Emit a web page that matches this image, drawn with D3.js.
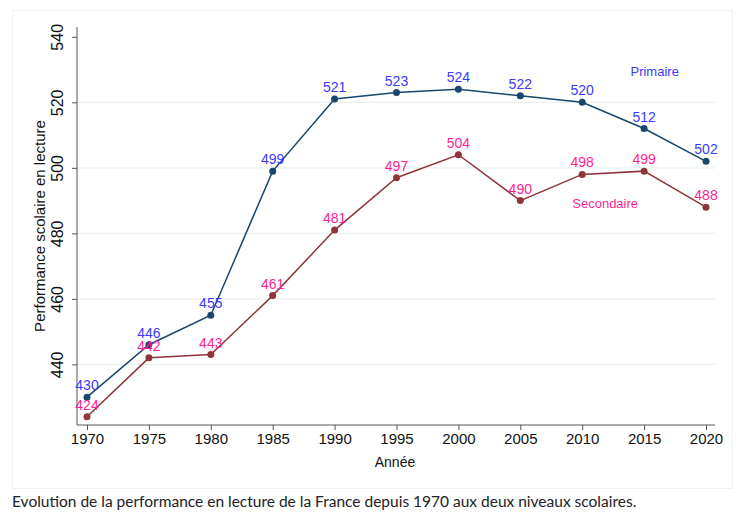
<!DOCTYPE html>
<html><head><meta charset="utf-8">
<script src="https://cdn.jsdelivr.net/npm/d3@7"></script>
<style>body{margin:0;background:#fff}svg{display:block}</style>
</head><body>
<script>
const years = [1970,1975,1980,1985,1990,1995,2000,2005,2010,2015,2020];
const primaire = [430,446,455,499,521,523,524,522,520,512,502];
const secondaire = [424,442,443,461,481,497,504,490,498,499,488];
const yTicks = [440,460,480,500,520,540];
const xTicks = years;
const seriesNames = ["Primaire","Secondaire"];

const FONT="'Liberation Sans', Arial, sans-serif";
const W=754,H=523;
const svg=d3.select("body").append("svg").attr("width",W).attr("height",H);
svg.append("rect").attr("x",12.5).attr("y",10.5).attr("width",720).attr("height",478)
  .attr("fill","#fff").attr("stroke","#eef2f2");

const x=d3.scaleLinear().domain([1970,2020]).range([87,706]);
const y=d3.scaleLinear().domain([421.5,543]).range([425,27]);
const pL=77,pR=715,pB=425,pT=27;

// grid
svg.append("g").selectAll("line").data(yTicks.filter(d=>d<540)).join("line")
  .attr("x1",pL).attr("x2",pR).attr("y1",d=>y(d)).attr("y2",d=>y(d))
  .attr("stroke","#eaf0f0").attr("stroke-width",1.2);

// axes
const ya=svg.append("g").attr("transform",`translate(${pL},0)`)
  .call(d3.axisLeft(y).tickValues(yTicks).tickSize(5).tickFormat(d3.format("d")));
ya.select(".domain").attr("d",`M0,${pT}V${pB}`).attr("stroke","#555");
ya.selectAll(".tick line").attr("stroke","#555");
ya.selectAll(".tick text").style("font-family",FONT).attr("font-size",16).attr("fill","#111")
  .attr("transform","rotate(-90)").attr("x",0).attr("y",-14).attr("dy","0").attr("text-anchor","middle");

const xa=svg.append("g").attr("transform",`translate(0,${pB})`)
  .call(d3.axisBottom(x).tickValues(xTicks).tickSize(5).tickFormat(d3.format("d")));
xa.select(".domain").attr("d",`M${pL},0H${pR}`).attr("stroke","#555");
xa.selectAll(".tick line").attr("stroke","#555");
xa.selectAll(".tick text").style("font-family",FONT).attr("font-size",15).attr("fill","#111").attr("y",8);

svg.append("text").attr("x",395).attr("y",467).attr("text-anchor","middle")
  .style("font-family",FONT).attr("font-size",14).attr("fill","#111").text("Année");
svg.append("text").attr("transform","translate(45,226) rotate(-90)").attr("text-anchor","middle")
  .style("font-family",FONT).attr("font-size",15).attr("fill","#111").text("Performance scolaire en lecture");

const series=[
  {name:seriesNames[0],vals:primaire,line:"#1a476f",lab:"#3a3aff",lx:2013.9,ly:71},
  {name:seriesNames[1],vals:secondaire,line:"#90353b",lab:"#ff1f8f",lx:2009.2,ly:203}
];
const line=d3.line().x((d,i)=>x(years[i])).y(d=>y(d));
series.forEach(s=>{
  svg.append("path").attr("d",line(s.vals)).attr("fill","none").attr("stroke",s.line).attr("stroke-width",1.5);
  svg.append("g").selectAll("circle").data(s.vals).join("circle")
    .attr("cx",(d,i)=>x(years[i])).attr("cy",d=>y(d)).attr("r",3.5).attr("fill",s.line);
  svg.append("g").selectAll("text").data(s.vals).join("text")
    .attr("x",(d,i)=>x(years[i])).attr("y",d=>y(d)-7).attr("text-anchor","middle")
    .style("font-family",FONT).attr("font-size",14).attr("fill",s.lab).text(d=>d);
  svg.append("text").attr("x",x(s.lx)).attr("y",s.ly+5).attr("text-anchor","start")
    .style("font-family",FONT).attr("font-size",13).attr("fill",s.lab).text(s.name);
});

svg.append("text").attr("x",12).attr("y",507).style("font-family","Lato, 'Open Sans', sans-serif")
  .attr("font-size",15.5).attr("fill","#222")
  .text("Evolution de la performance en lecture de la France depuis 1970 aux deux niveaux scolaires.");
</script>
</body></html>
